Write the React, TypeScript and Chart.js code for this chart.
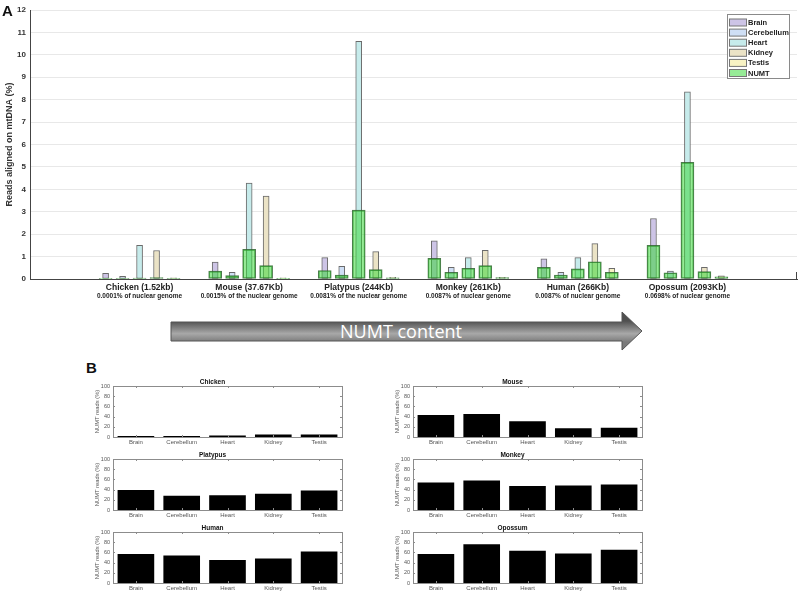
import React, { useEffect, useRef } from "react";
import { Chart, registerables } from "chart.js";

Chart.register(...registerables);

// ---------- DATA ----------
const TISSUES = ["Brain", "Cerebellum", "Heart", "Kidney", "Testis"];
const GROUP_LABELS = [
  "Chicken (1.52kb)",
  "Mouse (37.67Kb)",
  "Platypus (244Kb)",
  "Monkey (261Kb)",
  "Human (266Kb)",
  "Opossum (2093Kb)",
];
const GROUP_SUBLABELS = [
  "0.0001% of nuclear genome",
  "0.0015% of the nuclear genome",
  "0.0081% of the nuclear genome",
  "0.0087% of nuclear genome",
  "0.0087% of nuclear genome",
  "0.0698% of nuclear genome",
];

// total reads aligned on mtDNA (%) per tissue, species order as GROUP_LABELS
const BRAIN_READS = [0.25, 0.75, 0.95, 1.7, 0.9, 2.7];
const CEREBELLUM_READS = [0.12, 0.3, 0.57, 0.52, 0.3, 0.35];
const HEART_READS = [1.5, 4.28, 10.6, 0.95, 0.95, 8.35];
const KIDNEY_READS = [1.27, 3.7, 1.22, 1.28, 1.58, 0.52];
const TESTIS_READS = [0.05, 0.05, 0.08, 0.08, 0.48, 0.14];
const TISSUE_READS = [BRAIN_READS, CEREBELLUM_READS, HEART_READS, KIDNEY_READS, TESTIS_READS];

// NUMT reads (%) per species, tissue order as TISSUES
const NUMT_CHICKEN = [0.005, 0.003, 0.045, 0.064, 0.003];
const NUMT_MOUSE = [0.35, 0.15, 1.32, 0.6, 0.01];
const NUMT_PLATYPUS = [0.38, 0.17, 3.07, 0.42, 0.05];
const NUMT_MONKEY = [0.92, 0.3, 0.48, 0.6, 0.06];
const NUMT_HUMAN = [0.52, 0.18, 0.45, 0.77, 0.3];
const NUMT_OPOSSUM = [1.5, 0.28, 5.2, 0.33, 0.1];
const NUMT_READS = [NUMT_CHICKEN, NUMT_MOUSE, NUMT_PLATYPUS, NUMT_MONKEY, NUMT_HUMAN, NUMT_OPOSSUM];

const Y_TICKS_A = [0, 12];

// Panel B: NUMT reads (%) of reads aligned on mtDNA
const B_CHICKEN = [2, 2, 3, 5, 5];
const B_MOUSE = [43, 45, 31, 17, 18];
const B_PLATYPUS = [39, 28, 29, 32, 38];
const B_MONKEY = [54, 58, 47, 48, 50];
const B_HUMAN = [57, 54, 45, 48, 62];
const B_OPOSSUM = [57, 76, 63, 58, 65];

// ---------- STYLE / LAYOUT ----------
const FONT = "'Liberation Sans', Arial, sans-serif";
const TISSUE_SPACING = 0.155;
const TISSUE_COLORS = ["#cdc4e6", "#cfdff5", "#c6ebeb", "#ebe3c6", "#f8f3c4"];
const NUMT_COLOR = "rgba(45,215,45,0.5)";

const mainDecor = {
  id: "mainDecor",
  afterDraw(chart: any) {
    const { ctx, chartArea, scales } = chart;
    const x = scales.x;
    ctx.save();
    // short right-hand axis stub
    ctx.strokeStyle = "#444";
    ctx.lineWidth = 1;
    ctx.beginPath();
    ctx.moveTo(Math.round(chartArea.right) - 0.5, chartArea.bottom - 7);
    ctx.lineTo(Math.round(chartArea.right) - 0.5, chartArea.bottom);
    ctx.stroke();

    ctx.textAlign = "center";
    ctx.textBaseline = "middle";
    ctx.fillStyle = "#222";
    GROUP_LABELS.forEach((lab, i) => {
      const px = x.getPixelForValue(i);
      ctx.font = `bold 8.5px ${FONT}`;
      ctx.fillText(lab, px, chartArea.bottom + 8.5);
      ctx.font = `bold 6.5px ${FONT}`;
      ctx.fillText(GROUP_SUBLABELS[i], px, chartArea.bottom + 17.5);
    });
    // legend box
    const bx = Math.round(chartArea.right - 70);
    const by = Math.round(chartArea.top + 4);
    const bw = 62;
    const bh = 64;
    ctx.fillStyle = "#fff";
    ctx.fillRect(bx, by, bw, bh);
    ctx.strokeStyle = "#8a8a8a";
    ctx.lineWidth = 1;
    ctx.strokeRect(bx + 0.5, by + 0.5, bw, bh);
    ctx.textAlign = "left";
    ctx.font = `bold 7.5px ${FONT}`;
    chart.data.datasets.forEach((ds: any, k: number) => {
      const cy = by + 8.5 + k * 10.1;
      ctx.fillStyle = "#fff";
      ctx.fillRect(bx + 2, cy - 3.5, 17, 7);
      ctx.fillStyle = ds.backgroundColor;
      ctx.fillRect(bx + 2, cy - 3.5, 17, 7);
      ctx.strokeStyle = "#777";
      ctx.strokeRect(bx + 2.5, cy - 3.5, 17, 7);
      ctx.fillStyle = "#222";
      ctx.fillText(ds.label, bx + 21, cy + 0.5);
    });
    ctx.restore();
  },
};

const boxDecor = {
  id: "boxDecor",
  afterDraw(chart: any) {
    const { ctx, chartArea, scales } = chart;
    const { left, right, top, bottom } = chartArea;
    ctx.save();
    ctx.strokeStyle = "#8c8c8c";
    ctx.lineWidth = 1;
    ctx.strokeRect(Math.round(left) + 0.5, Math.round(top) + 0.5, Math.round(right - left), Math.round(bottom - top));
    ctx.beginPath();
    scales.x.ticks.forEach((_: any, i: number) => {
      const px = Math.round(scales.x.getPixelForTick(i)) + 0.5;
      ctx.moveTo(px, top);
      ctx.lineTo(px, top + 2);
      ctx.moveTo(px, bottom);
      ctx.lineTo(px, bottom - 2);
    });
    scales.y.ticks.forEach((t: any) => {
      const py = Math.round(scales.y.getPixelForValue(t.value)) + 0.5;
      ctx.moveTo(left, py);
      ctx.lineTo(left + 2, py);
      ctx.moveTo(right, py);
      ctx.lineTo(right - 2, py);
    });
    ctx.stroke();
    ctx.restore();
  },
};

function MainChart() {
  const ref = useRef<HTMLCanvasElement>(null);
  useEffect(() => {
    const tissueSets = TISSUES.map((name, t) => ({
      label: name,
      data: TISSUE_READS[t].map((v, i) => ({ x: i + (t - 2) * TISSUE_SPACING, y: v })),
      backgroundColor: TISSUE_COLORS[t],
      borderColor: "rgba(90,90,90,0.9)",
      borderWidth: 1,
      borderSkipped: false,
      barThickness: 6,
      grouped: false,
      order: 1,
    }));
    const numtSet = {
      label: "NUMT",
      data: NUMT_READS.flatMap((arr, i) =>
        arr.map((v, t) => ({ x: i + (t - 2) * TISSUE_SPACING, y: v }))
      ),
      backgroundColor: NUMT_COLOR,
      borderColor: "rgba(45,100,45,0.85)",
      borderWidth: 1,
      borderSkipped: false,
      barThickness: 13,
      grouped: false,
      order: 0,
    };
    const chart = new Chart(ref.current as HTMLCanvasElement, {
      type: "bar",
      data: { datasets: [...tissueSets, numtSet] as any },
      options: {
        animation: false,
        responsive: false,
        events: [],
        layout: { padding: { left: 0, right: 3, top: 10, bottom: 0 } },
        plugins: { legend: { display: false }, tooltip: { enabled: false } },
        scales: {
          x: {
            type: "linear",
            min: -1,
            max: 6,
            offset: false,
            ticks: { display: false },
            grid: { display: false, drawTicks: false },
            border: { display: true, color: "#444", width: 1 },
            afterFit: (s: any) => {
              s.height = 26;
            },
          },
          y: {
            min: Y_TICKS_A[0],
            max: Y_TICKS_A[1],
            ticks: { stepSize: 1, font: { family: FONT, size: 8, weight: "bold" }, color: "#333", padding: 4 },
            grid: { color: "#e8e8e8", drawTicks: false },
            border: { display: true, color: "#444", width: 1 },
            title: {
              display: true,
              text: "Reads aligned on mtDNA (%)",
              font: { family: FONT, size: 9, weight: "bold" },
              color: "#333",
              padding: { top: 4.5, bottom: 0 },
            },
            afterFit: (s: any) => {
              s.width = 30;
            },
          },
        } as any,
      },
      plugins: [mainDecor],
    });
    return () => chart.destroy();
  }, []);
  return <canvas ref={ref} width={800} height={305} style={{ position: "absolute", left: 0, top: 0 }} />;
}

function SmallChart({ title, values, left, top }: { title: string; values: number[]; left: number; top: number }) {
  const ref = useRef<HTMLCanvasElement>(null);
  useEffect(() => {
    const chart = new Chart(ref.current as HTMLCanvasElement, {
      type: "bar",
      data: {
        labels: TISSUES,
        datasets: [
          {
            data: values,
            backgroundColor: "#000",
            borderColor: "#000",
            borderWidth: 0,
            barPercentage: 0.8,
            categoryPercentage: 1,
          },
        ],
      },
      options: {
        animation: false,
        responsive: false,
        events: [],
        layout: { padding: { left: 0, right: 4, top: 0, bottom: 0 } },
        plugins: {
          legend: { display: false },
          tooltip: { enabled: false },
          title: {
            display: true,
            text: title,
            font: { family: FONT, size: 6.5, weight: "bold" },
            color: "#111",
            padding: { top: 4, bottom: 0.2 },
          },
        },
        scales: {
          x: {
            grid: { display: false, drawTicks: false },
            border: { display: false },
            ticks: { font: { family: FONT, size: 6 }, color: "#555", padding: 2, maxRotation: 0, autoSkip: false },
            afterFit: (s: any) => {
              s.height = 13;
            },
          },
          y: {
            min: 0,
            max: 100,
            ticks: { stepSize: 20, font: { family: FONT, size: 5.5 }, color: "#555", padding: 3 },
            grid: { display: false, drawTicks: false },
            border: { display: false },
            title: {
              display: true,
              text: "NUMT reads (%)",
              font: { family: FONT, size: 5.8 },
              color: "#555",
              padding: { top: 10.5, bottom: 0 },
            },
            afterFit: (s: any) => {
              s.width = 30;
            },
          },
        } as any,
      },
      plugins: [boxDecor],
    });
    return () => chart.destroy();
  }, []);
  return <canvas ref={ref} width={263} height={76} style={{ position: "absolute", left, top }} />;
}

const SMALL = [
  { title: "Chicken", values: B_CHICKEN, col: 0, row: 0 },
  { title: "Mouse", values: B_MOUSE, col: 1, row: 0 },
  { title: "Platypus", values: B_PLATYPUS, col: 0, row: 1 },
  { title: "Monkey", values: B_MONKEY, col: 1, row: 1 },
  { title: "Human", values: B_HUMAN, col: 0, row: 2 },
  { title: "Opossum", values: B_OPOSSUM, col: 1, row: 2 },
];

export default function App() {
  return (
    <div style={{ position: "fixed", left: 0, top: 0, width: 800, height: 594, background: "#fff", overflow: "hidden" }}>
      <MainChart />
      <div style={{ position: "absolute", left: 2, top: 3, font: `bold 15px ${FONT}`, lineHeight: "15px", color: "#111" }}>A</div>
      <div style={{ position: "absolute", left: 86, top: 360, font: `bold 15px ${FONT}`, lineHeight: "15px", color: "#111" }}>B</div>
      <svg width={476} height={41} style={{ position: "absolute", left: 170, top: 311 }}>
        <defs>
          <linearGradient id="arrowGrad" gradientUnits="userSpaceOnUse" x1="0" y1="10" x2="0" y2="31">
            <stop offset="0" stopColor="#505050" />
            <stop offset="0.6" stopColor="#a8a8a8" />
            <stop offset="1" stopColor="#7a7a7a" />
          </linearGradient>
        </defs>
        <polygon
          points="1,11 452,11 452,1 472,20 452,39 452,30 1,30"
          fill="url(#arrowGrad)"
          stroke="#555"
          strokeWidth={1}
        />
        <text x={231} y={27} fill="#fff" fontFamily="'Open Sans', sans-serif" fontSize={18} textAnchor="middle">
          NUMT content
        </text>
      </svg>
      {SMALL.map((s) => (
        <SmallChart key={s.title} title={s.title} values={s.values} left={83 + 300 * s.col} top={374 + 73 * s.row} />
      ))}
    </div>
  );
}
